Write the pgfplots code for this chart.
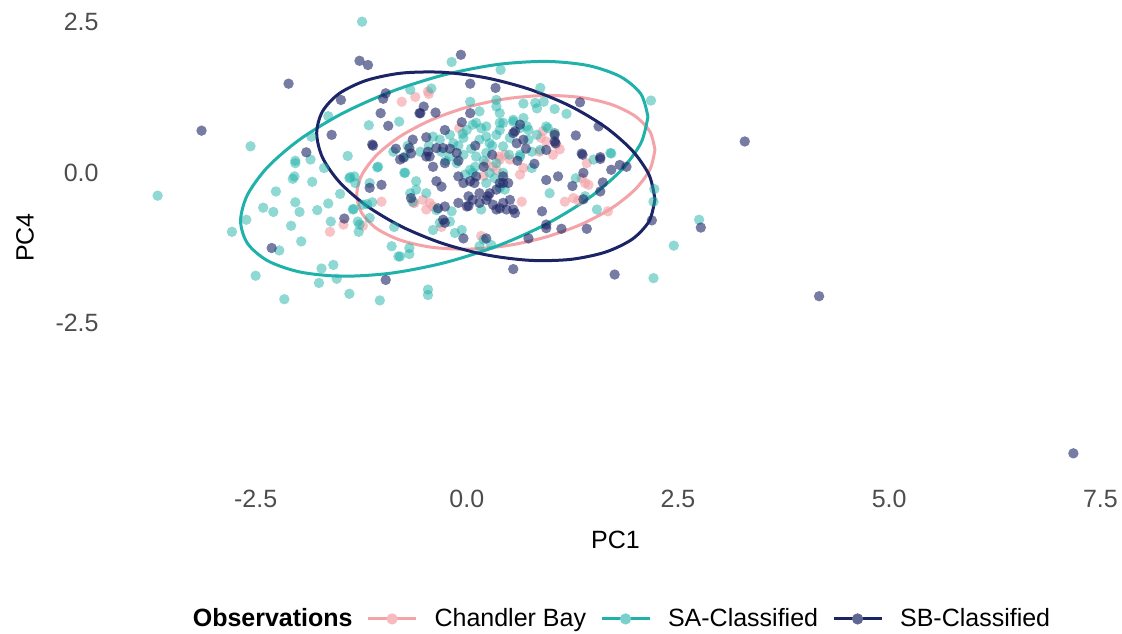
\documentclass[border=0pt]{standalone}
\usepackage{pgfplots}
\pgfplotsset{compat=1.18}
\usepackage{fontspec}
\setmainfont{Liberation Sans}
\definecolor{cbpink}{HTML}{F4A3A8}
\definecolor{sateal}{HTML}{20B2AA}
\definecolor{sbnavy}{HTML}{1B2465}
\definecolor{ticklab}{HTML}{4D4D4D}
\begin{document}
\begin{tikzpicture}
\path[use as bounding box] (-56pt,-79pt) rectangle (505pt,237.5pt);
\begin{axis}[
  at={(0pt,0pt)}, anchor=south west,
  width=503.5pt, height=237.5pt, scale only axis,
  xmin=-4.20, xmax=7.72, ymin=-5.02, ymax=2.87,
  axis line style={draw=none}, tick style={draw=none},
  xtick={-2.5,0,2.5,5,7.5}, xticklabels={-2.5,0.0,2.5,5.0,7.5},
  ytick={-2.5,0,2.5}, yticklabels={-2.5,0.0,2.5},
  ticklabel style={font=\fontsize{12.5}{15}\selectfont, text=ticklab},
  xticklabel style={anchor=north, inner sep=0pt, yshift=-7.5pt},
  yticklabel style={anchor=east, inner sep=0pt, xshift=-6.5pt},
  xlabel={PC1}, ylabel={PC4},
  label style={font=\fontsize{12.5}{15}\selectfont},
  xlabel style={at={(axis description cs:0.5,-0.1368)}, anchor=center},
  ylabel style={at={(axis description cs:-0.0864,0.5)}, anchor=center},
  legend style={at={(axis description cs:0.4995,-0.303)}, anchor=center, draw=none, fill=none,
    font=\fontsize{12.5}{15}\selectfont,
    /tikz/every even column/.append style={column sep=5pt},
    /tikz/every odd column/.append style={column sep=6.5pt}},
  legend columns=-1,
  legend cell align=left,
]
\addlegendimage{empty legend}
\addlegendentry{\textbf{Observations}}

% Chandler Bay
\addplot[only marks, color=cbpink, mark=*, mark size=2.6pt, mark options={draw opacity=0, fill=cbpink, fill opacity=0.65},
  legend image code/.code={\draw[cbpink, line width=1.5pt] (0pt,0pt)--(24pt,0pt); \fill[cbpink!75!white] (12pt,0pt) circle (2.6pt);}]
coordinates {
(-0.77,1.18) (-0.61,1.26) (-0.46,1.35) (-0.45,1.31) (-1.46,-0.86) (-1.62,-0.98) (-1.23,-0.88)
(-1.01,-0.48) (-0.63,-0.50) (-0.09,0.74) (0.38,0.27) (0.90,0.69) (1.04,0.66) (0.94,0.52)
(1.06,0.47) (1.10,0.39) (0.86,0.35) (1.02,0.30) (-0.52,-0.45) (-0.44,-0.50) (-0.48,-0.61)
(-0.40,-0.56) (-0.62,-0.50) (-0.30,-0.90) (0.17,-1.05) (0.23,0.16) (0.31,0.10) (0.39,0.22)
(0.35,0.05) (0.65,-0.48) (1.16,-0.48) (1.26,-0.42) (1.32,-0.46) (1.40,-0.17) (1.44,-0.20)
(1.36,-0.09) (1.67,-0.64) (1.42,0.16) (0.51,0.22) (0.63,-0.03) (0.67,0.08) (0.88,0.58)
(0.20,-0.05) (0.45,0.30)
};
\addlegendentry{Chandler Bay}

% SA-Classified
\addplot[only marks, color=sateal, mark=*, mark size=2.6pt, mark options={draw opacity=0, fill=sateal, fill opacity=0.5},
  legend image code/.code={\draw[sateal, line width=1.5pt] (0pt,0pt)--(24pt,0pt); \fill[sateal!60!white] (12pt,0pt) circle (2.6pt);}]
coordinates {
(-1.24,2.51) (-2.56,0.44) (-0.67,1.38) (-1.64,0.94) (-0.80,0.85) (-1.16,0.79) (-1.84,0.60)
(-0.70,0.45) (-0.87,0.35) (-1.41,0.28) (-2.03,0.20) (-0.73,0.27)
(-3.66,-0.38) (-2.03,0.16) (-1.85,0.22) (-1.69,0.08) (-2.04,-0.06) (-2.06,-0.10) (-1.83,-0.15)
(-2.26,-0.31) (-2.41,-0.58) (-2.29,-0.65) (-2.03,-0.49) (-1.98,-0.65) (-1.77,-0.62) (-1.64,-0.51)
(-1.50,-0.35) (-2.61,-0.78) (-2.78,-0.98) (-2.08,-0.88) (-1.61,-0.81) (-1.27,-0.86) (-1.28,-0.98)
(-1.35,-0.61) (-1.18,-0.52) (-1.12,-0.49) (-1.06,0.09) (-1.38,-0.07) (-1.32,-0.17) (-1.15,-0.17)
(-1.96,-1.14) (-2.22,-1.29) (-2.50,-1.71) (-2.16,-2.10) (-1.72,-1.59) (-1.58,-1.53) (-1.75,-1.83)
(-1.54,-1.76) (-1.39,-2.01) (-1.03,-2.12) (-0.89,-1.22) (-0.81,-1.39) (-0.68,-1.35) (-0.86,-0.90)
(-0.67,-0.34) (-0.60,-0.28) (-0.64,-0.48) (-0.74,0.00) (-0.60,-0.14)
(-0.18,1.84) (0.40,1.71) (-0.42,1.40) (0.04,1.18) (0.15,1.02) (0.35,1.10) (0.39,0.99) (0.43,0.83)
(-0.40,0.60) (-0.32,0.55) (-0.20,0.63) (-0.16,0.49) (-0.04,0.58) (0.00,0.71) (0.07,0.80) (0.17,0.74)
(0.23,0.60) (0.27,0.49) (0.35,0.63) (0.39,0.71) (0.43,0.44)
(0.87,1.41) (2.18,1.20) (0.67,1.15) (0.81,1.16) (0.83,1.07) (0.91,1.18) (1.04,1.06) (1.18,0.98)
(1.70,0.33) (0.71,0.77) (0.83,0.63) (0.94,0.77) (0.73,0.55) (0.77,0.35) (0.63,0.27) (0.35,1.21)
(0.11,0.83) (0.23,0.77) (0.39,0.83) (0.55,0.88) (0.55,0.85) (0.67,0.91) (0.63,0.74) (0.73,0.71)
(0.51,0.58) (0.96,0.74) (1.04,0.66)
(-1.05,0.10) (-1.33,-0.06) (-1.39,-0.09) (-0.73,0.00) (-1.34,-0.60) (-1.23,-0.53) (-1.29,-0.81)
(-1.15,-0.75) (-0.68,-1.25)
(-0.40,-0.95) (-0.32,-0.83) (-0.20,-0.81) (-0.14,-1.00) (-0.06,-0.95) (0.20,-1.11) (-0.18,-0.64)
(-0.48,-0.34) (-0.36,-0.62)
(0.17,-0.61) (0.04,0.05) (0.07,0.00) (-0.02,-0.03) (-0.12,0.16) (-0.20,0.27) (-0.04,0.30)
(0.11,0.27) (0.23,0.33) (0.35,0.16) (0.43,0.00) (0.27,0.00)
(0.23,-0.17) (0.33,-0.09) (0.39,-0.25) (0.45,-0.28)
(-0.79,-1.39) (-0.46,-1.94) (-0.46,-2.03) (0.15,-1.22) (0.29,-1.20)
(2.21,-1.75) (2.45,-1.21) (2.22,-0.27) (2.21,-0.48) (0.98,-0.34) (1.29,-0.09) (1.40,-0.39)
(1.54,-0.61) (1.71,0.32) (1.50,0.22) (0.77,0.08) (0.87,0.38) (0.63,0.30)
(2.75,-0.78)
(-0.30,0.35) (-0.10,0.45) (0.05,0.40) (0.15,0.55) (-0.25,0.20) (0.20,0.20) (0.50,0.30)
(-0.55,0.35) (-0.45,0.45) (0.10,0.10) (-0.05,0.65) (0.30,0.45)
};
\addlegendentry{SA-Classified}

% SB-Classified
\addplot[only marks, color=sbnavy, mark=*, mark size=2.6pt, mark options={draw opacity=0, fill=sbnavy, fill opacity=0.6},
  legend image code/.code={\draw[sbnavy, line width=1.5pt] (0pt,0pt)--(24pt,0pt); \fill[sbnavy!70!white] (12pt,0pt) circle (2.6pt);}]
coordinates {
(-1.27,1.86) (-1.17,1.79) (-2.11,1.48) (-3.14,0.70) (-1.49,1.21) (-0.96,1.32) (-0.99,1.23)
(-1.02,0.99) (-0.93,0.78) (-1.60,0.63) (-1.11,0.45) (-0.64,0.55) (-0.84,0.40) (-1.90,0.34)
(-0.56,0.99) (-0.66,0.32)
(-2.31,-1.25) (-1.45,-0.76) (-1.01,-0.20) (-1.15,-0.25) (-0.96,-1.78) (-0.66,-0.42) (-0.79,0.22)
(-0.07,1.96) (0.04,1.48) (0.34,1.41) (-0.51,1.10) (-0.37,1.00) (-0.55,0.99) (0.04,0.99)
(-0.06,0.84) (-0.48,0.59) (-0.26,0.71) (-1.12,0.47) (-0.68,0.41) (-0.48,0.27) (-0.36,0.41)
(1.34,1.17) (1.56,0.77) (1.29,0.62) (1.36,0.32) (1.58,0.26) (1.04,0.63) (1.05,0.49)
(0.63,0.80) (0.55,0.66) (0.59,0.49) (0.57,0.69) (1.04,0.52) (0.94,0.38) (0.67,0.55)
(-0.36,-0.14) (-0.30,-0.23) (-0.34,-0.59) (-0.26,-0.56) (-0.28,-0.78) (-0.26,-0.83) (-0.04,-1.09)
(0.23,-1.09)
(-0.10,-0.50) (0.00,-0.56) (0.07,-0.45) (0.15,-0.50) (0.23,-0.45) (0.31,-0.53) (0.39,-0.59)
(0.47,-0.61) (0.27,-0.34) (0.35,-0.28) (0.43,-0.17) (-0.04,-0.17) (0.04,-0.14) (0.11,-0.06)
(-0.75,0.25) (-0.44,0.27) (-0.26,0.16) (-0.46,0.35)
(-0.10,-0.06) (0.09,-0.17) (0.02,-0.39) (0.15,-0.34) (0.25,-0.39) (0.02,-0.55)
(0.39,-0.17) (0.43,-0.06) (0.49,-0.17) (0.35,-0.61) (0.43,-0.50) (0.55,-0.61) (0.57,-0.67)
(0.51,-0.45)
(0.89,-0.64) (0.94,-0.86) (0.94,-0.92) (1.12,-0.93) (1.42,-0.93) (0.73,-1.09) (0.55,-1.60)
(1.75,-1.69) (2.19,-0.79)
(0.94,-0.12) (1.08,-0.06) (1.25,-0.22) (1.37,0.30) (1.58,0.23) (1.71,0.05) (1.81,0.13)
(1.89,0.10) (1.61,-0.16) (1.58,-0.31) (1.38,0.00) (1.38,-0.44)
(-0.28,0.41) (-0.12,0.33) (-0.20,0.40) (0.10,0.45) (-0.10,0.20) (0.20,0.10) (-0.40,0.10)
(0.60,0.20) (0.80,0.15) (0.70,0.40) (0.30,0.30)
(3.29,0.52) (2.77,-0.91) (4.17,-2.05) (7.18,-4.66)
};
\addlegendentry{SB-Classified}

% ellipses
\addplot[forget plot, cbpink, line width=1.5pt, smooth] coordinates {
(2.227,0.382) (2.167,0.685) (1.990,0.943) (1.710,1.135) (1.345,1.252) (0.919,1.284)
(0.462,1.229) (0.005,1.090) (-0.421,0.878) (-0.786,0.607) (-1.066,0.295) (-1.243,-0.037)
(-1.303,-0.366) (-1.243,-0.669) (-1.066,-0.927) (-0.786,-1.119) (-0.421,-1.236) (0.005,-1.268)
(0.462,-1.213) (0.919,-1.074) (1.345,-0.862) (1.710,-0.591) (1.990,-0.279) (2.167,0.053)
(2.227,0.382)
};
\addplot[forget plot, sateal, line width=1.5pt, smooth] coordinates {
(2.144,0.930) (2.062,1.305) (1.821,1.595) (1.438,1.781) (0.939,1.850) (0.357,1.798)
(-0.267,1.627) (-0.891,1.350) (-1.473,0.986) (-1.972,0.559) (-2.355,0.099) (-2.596,-0.365)
(-2.678,-0.798) (-2.596,-1.173) (-2.355,-1.463) (-1.972,-1.649) (-1.473,-1.718) (-0.891,-1.666)
(-0.267,-1.495) (0.357,-1.218) (0.939,-0.854) (1.438,-0.427) (1.821,0.033) (2.062,0.497)
(2.144,0.930)
};
\addplot[forget plot, sbnavy, line width=1.5pt, smooth] coordinates {
(2.227,-0.440) (2.159,-0.040) (1.959,0.368) (1.640,0.760) (1.226,1.107) (0.744,1.386)
(0.225,1.578) (-0.294,1.670) (-0.776,1.655) (-1.190,1.534) (-1.509,1.318) (-1.709,1.018)
(-1.777,0.656) (-1.709,0.256) (-1.509,-0.152) (-1.190,-0.544) (-0.776,-0.891) (-0.294,-1.170)
(0.225,-1.362) (0.744,-1.454) (1.226,-1.439) (1.640,-1.318) (1.959,-1.102) (2.159,-0.802)
(2.227,-0.440)
};
\end{axis}
\end{tikzpicture}
\end{document}
